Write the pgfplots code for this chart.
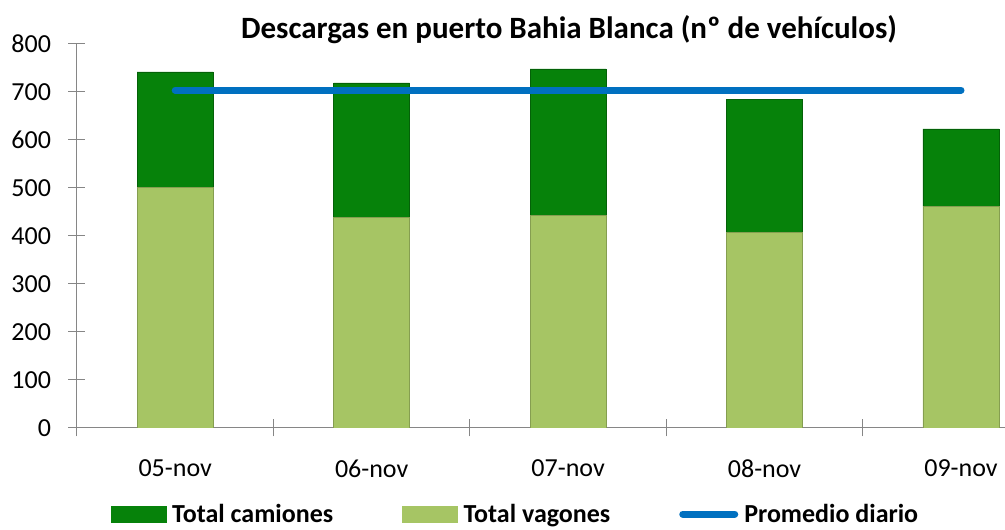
\documentclass[border=0pt]{standalone}
\usepackage{pgfplots}
\pgfplotsset{compat=1.18}
\usepackage{fontspec}
\setmainfont{Carlito}
\definecolor{camion}{HTML}{06820A}
\definecolor{vagon}{HTML}{A6C564}
\definecolor{prom}{HTML}{0070C0}
\definecolor{axgray}{HTML}{868686}
\begin{document}
\begin{tikzpicture}[x=1pt,y=1pt]
\path[use as bounding box] (-77,-102) rectangle (928,428);
\pgfplotsset{base/.style={
  scale only axis, width=928pt, height=384pt,
  at={(0,0)}, anchor=south west,
  xmin=-0.5, xmax=4.224, ymin=0, ymax=800,
}}
\begin{axis}[base,
  ybar stacked, bar width=76pt,
  axis lines=left, axis line style={-, draw=axgray, line width=1pt},
  xtick={0,1,2,3,4},
  xticklabels={05-nov,06-nov,07-nov,08-nov,09-nov},
  minor xtick={-0.5,0.5,1.5,2.5,3.5},
  major x tick style={draw=none},
  minor x tick style={draw=axgray, line width=1pt},
  minor tick length=17pt,
  ytick={0,100,...,800},
  y tick style={draw=axgray, line width=1pt},
  major tick length=17pt,
  tick align=center,
  /pgf/number format/assume math mode=true,
  tick label style={font=\fontsize{26}{26}\selectfont, text=black},
  xticklabel style={yshift=-20pt},
  yticklabel style={xshift=-14pt},
]
\addplot[fill=vagon, draw=vagon!80!black, line width=0.6pt] coordinates {(0,502) (1,438) (2,443) (3,408) (4,462)};
\addplot[fill=camion, draw=camion!75!black, line width=0.6pt] coordinates {(0,240) (1,281) (2,305) (3,277) (4,161)};
\end{axis}
\begin{axis}[base, hide axis,
  legend columns=3,
  legend style={at={(0.4720,-0.2240)}, anchor=center, draw=none, fill=none,
    inner sep=1pt, nodes={inner sep=1pt},
    font=\fontsize{26}{26}\selectfont\bfseries,
    /tikz/every odd column/.append style={column sep=5pt},
    /tikz/every even column/.append style={column sep=68pt}},
]
\addplot[prom, line width=7pt, line cap=round, forget plot] coordinates {(0,704) (4,704)};
\addlegendimage{legend image code/.code={\fill[camion] (0pt,-8pt) rectangle (55pt,8pt);}}
\addlegendentry{Total camiones}
\addlegendimage{legend image code/.code={\fill[vagon] (0pt,-8pt) rectangle (55pt,8pt);}}
\addlegendentry{Total vagones}
\addlegendimage{legend image code/.code={\draw[prom, line width=7pt, line cap=round] (3pt,0pt) -- (55pt,0pt);}}
\addlegendentry{Promedio diario}
\end{axis}
\node[font=\fontsize{31}{31}\selectfont\bfseries] at (492,398) {Descargas en puerto Bahia Blanca (nº de vehículos)};
\end{tikzpicture}
\end{document}
